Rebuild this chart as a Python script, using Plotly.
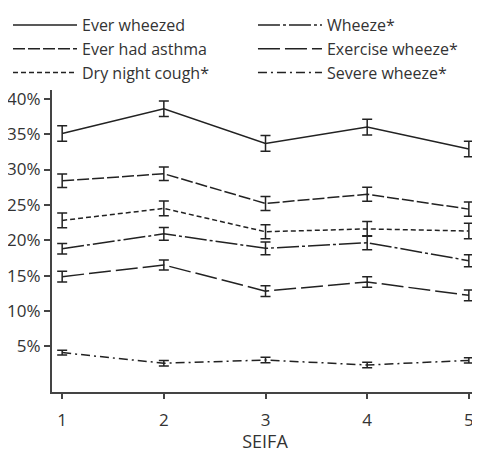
import plotly.graph_objects as go

seifa = [1, 2, 3, 4, 5]

ever_wheezed = [35.1, 38.6, 33.7, 36.0, 32.9]
ever_wheezed_err = [1.1, 1.1, 1.1, 1.1, 1.1]
wheeze = [18.8, 20.9, 18.85, 19.65, 17.1]
wheeze_err = [0.75, 0.9, 0.9, 1.0, 0.85]
ever_asthma = [28.4, 29.4, 25.2, 26.5, 24.4]
ever_asthma_err = [0.95, 0.95, 1.0, 1.0, 1.0]
exercise_wheeze = [14.85, 16.5, 12.8, 14.1, 12.2]
exercise_wheeze_err = [0.75, 0.7, 0.75, 0.75, 0.75]
dry_cough = [22.8, 24.5, 21.2, 21.6, 21.3]
dry_cough_err = [1.05, 1.05, 1.0, 1.05, 1.1]
severe_wheeze = [4.1, 2.6, 3.05, 2.35, 3.0]
severe_wheeze_err = [0.35, 0.4, 0.38, 0.38, 0.37]

ytick_vals = [5, 10, 15, 20, 25, 30, 35, 40]
ytick_text = ['5%', '10%', '15%', '20%', '25%', '30%', '35%', '40%']

INK = '#222222'
FONT = 'Open Sans'

# (name, values, errors, dash, legend column)
series = [
    ('Ever wheezed', ever_wheezed, ever_wheezed_err, 'solid', 'legend'),
    ('Ever had asthma', ever_asthma, ever_asthma_err, '12px,3px', 'legend'),
    ('Dry night cough*', dry_cough, dry_cough_err, '5px,3px', 'legend'),
    ('Wheeze*', wheeze, wheeze_err, '22px,3px,3px,3px', 'legend2'),
    ('Exercise wheeze*', exercise_wheeze, exercise_wheeze_err, '22px,5px', 'legend2'),
    ('Severe wheeze*', severe_wheeze, severe_wheeze_err, '9px,4px,2px,4px', 'legend2'),
]

fig = go.Figure()

for name, vals, err, dash, leg in series:
    fig.add_trace(
        go.Scatter(
            x=seifa,
            y=vals,
            name=name,
            mode='lines',
            legend=leg,
            line=dict(color=INK, width=1.5, dash=dash),
            error_y=dict(type='data', array=err, visible=True,
                         color=INK, thickness=1.5, width=5),
        )
    )

fig.update_xaxes(
    range=[0.9, 5.09],
    tickvals=seifa,
    showline=True,
    linecolor='#444444',
    linewidth=2,
    ticks='outside',
    ticklen=5,
    tickwidth=1.5,
    tickcolor='#444444',
    showgrid=False,
    zeroline=False,
    automargin=False,
    ticklabelstandoff=7,
    tickfont=dict(size=17, color='#333333'),
    title=dict(text='SEIFA', font=dict(size=18, color='#333333'), standoff=4),
)

fig.update_yaxes(
    range=[-1.47, 41.25],
    tickvals=ytick_vals,
    ticktext=ytick_text,
    showline=True,
    linecolor='#444444',
    linewidth=2,
    ticks='outside',
    ticklen=6,
    tickwidth=1.5,
    tickcolor='#444444',
    showgrid=False,
    zeroline=False,
    automargin=False,
    ticklabelstandoff=0,
    tickfont=dict(size=17, color='#333333'),
)

legend_style = dict(
    orientation='v',
    xref='container',
    yref='container',
    y=1.018,
    xanchor='left',
    yanchor='top',
    itemwidth=64,
    font=dict(size=16, color='#333333'),
    bgcolor='rgba(0,0,0,0)',
)

# page body adds an 8px margin, so the figure is 8px smaller each way
fig.update_layout(
    width=472,
    height=445,
    margin=dict(l=44, r=2, t=82, b=61, autoexpand=False),
    plot_bgcolor='white',
    paper_bgcolor='white',
    font=dict(family=FONT, color='#333333'),
    legend=dict(legend_style, x=0),
    legend2=dict(legend_style, x=0.519),
)

fig.write_html("out.html")
